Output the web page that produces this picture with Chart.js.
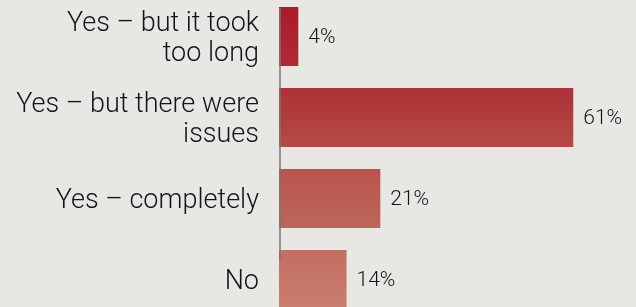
<!DOCTYPE html>
<html>
<head>
<meta charset="utf-8">
<script src="https://cdn.jsdelivr.net/npm/chart.js@4/dist/chart.umd.min.js"></script>
<style>
  html, body { margin: 0; padding: 0; background: #e8e7e3; overflow: hidden; }
  body { width: 636px; height: 307px; position: relative; }
  #wrap { position: absolute; left: 0; top: -4px; width: 636px; height: 324px; }
</style>
</head>
<body>
<div id="wrap"><canvas id="chart" width="636" height="324"></canvas></div>
<script>
  let categories = [
    ['Yes \u2013 but it took', 'too long'],
    ['Yes \u2013 but there were', 'issues'],
    'Yes \u2013 completely',
    'No'
  ];
  let values = [4, 61, 21, 14];
  let valueLabels = ['4%', '61%', '21%', '14%'];

  // top and bottom colour of each bar (slight vertical fade)
  let barTops = ['#a81c2d', '#ad3137', '#b8544c', '#c36f62'];
  let barBottoms = ['#b02a35', '#b44b46', '#bd665a', '#c97d6f'];

  function barFill(context) {
    let chart = context.chart;
    let yScale = chart.scales.y;
    let i = context.dataIndex;
    if (!yScale || !chart.chartArea) return barTops[i];
    let mid = yScale.getPixelForValue(i);
    let half = yScale.height / categories.length * 0.73 / 2;
    let grad = chart.ctx.createLinearGradient(0, mid - half, 0, mid + half);
    grad.addColorStop(0, barTops[i]);
    grad.addColorStop(1, barBottoms[i]);
    return grad;
  }

  let extras = {
    id: 'extras',
    afterDatasetsDraw(chart) {
      let ctx = chart.ctx;
      let meta = chart.getDatasetMeta(0);
      let xScale = chart.scales.x;

      // value labels at the end of each bar
      ctx.save();
      ctx.font = '300 21px Roboto';
      ctx.fillStyle = '#141414';
      ctx.textAlign = 'left';
      ctx.textBaseline = 'middle';
      meta.data.forEach((bar, i) => {
        ctx.fillText(valueLabels[i], bar.x + 10, bar.y + 1);
      });

      // axis line, drawn over the bars
      let first = meta.data[0];
      let last = meta.data[meta.data.length - 1];
      let x0 = xScale.getPixelForValue(0) + 1;
      ctx.strokeStyle = '#77777a';
      ctx.lineWidth = 1.5;
      ctx.beginPath();
      ctx.moveTo(x0, first.y - first.height / 2 + 1);
      ctx.lineTo(x0, last.y - 20);
      ctx.stroke();
      ctx.restore();
    }
  };

  new Chart(document.getElementById('chart'), {
    type: 'bar',
    data: {
      labels: categories,
      datasets: [{
        data: values,
        backgroundColor: barFill,
        borderWidth: 0,
        categoryPercentage: 1,
        barPercentage: 0.73
      }]
    },
    options: {
      indexAxis: 'y',
      responsive: false,
      animation: false,
      layout: { padding: 0 },
      plugins: {
        legend: { display: false },
        tooltip: { enabled: false }
      },
      scales: {
        x: {
          display: false,
          min: 0,
          max: 74
        },
        y: {
          grid: { display: false, drawTicks: false },
          border: { display: false },
          afterFit(scale) {
            scale.width = 279;
            scale.paddingTop = 0;
            scale.paddingBottom = 0;
          },
          ticks: {
            padding: 20,
            labelOffset: 3,
            color: '#141414',
            font: { family: 'Roboto', size: 27, weight: 300, lineHeight: 1.1 }
          }
        }
      }
    },
    plugins: [extras]
  });
</script>
</body>
</html>
